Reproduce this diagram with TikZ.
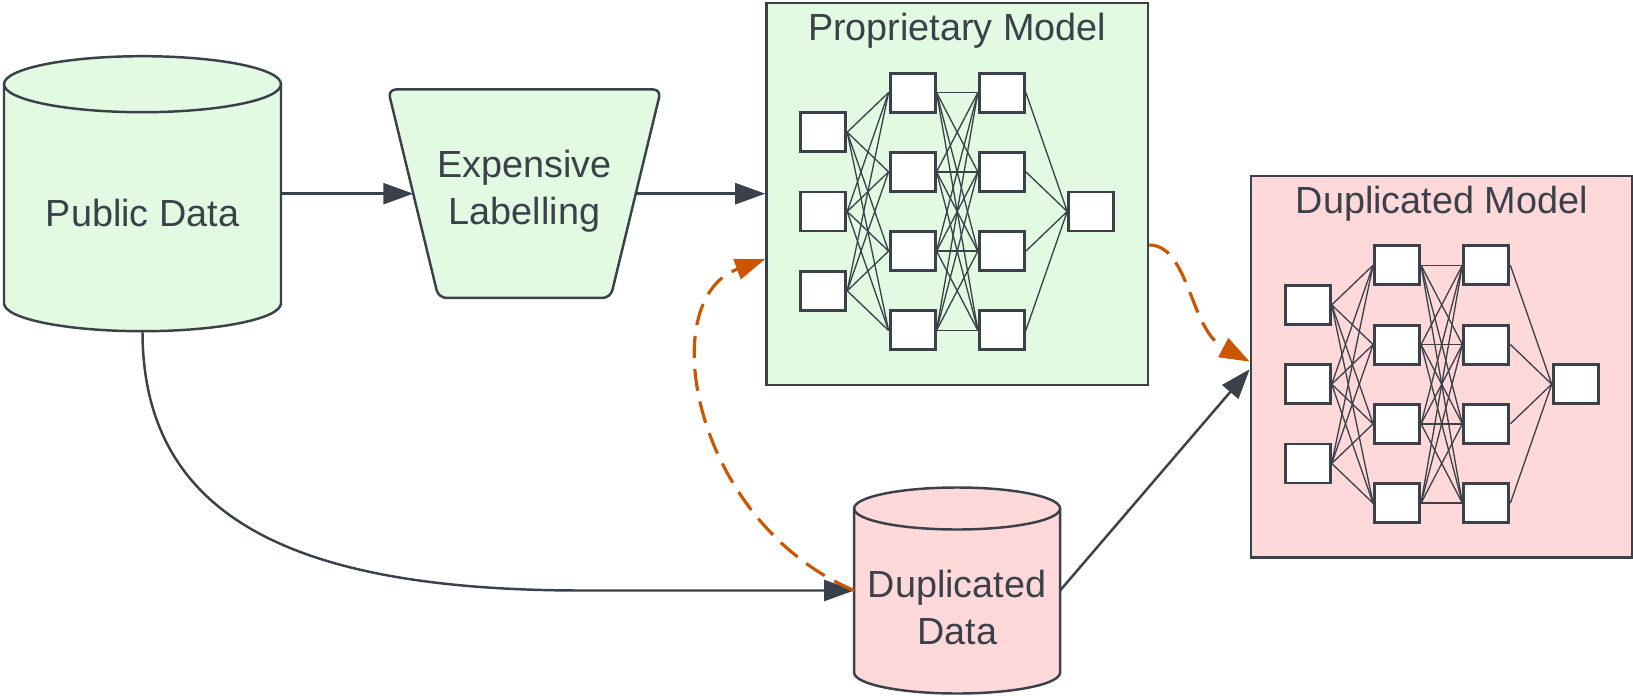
\documentclass[tikz,border=0pt]{standalone}
\usepackage{fontspec}
\setmainfont{Liberation Sans}
\usetikzlibrary{arrows.meta}

\definecolor{ink}{HTML}{3A414A}
\definecolor{okfill}{HTML}{E2F9E2}
\definecolor{copyfill}{HTML}{FFD9D9}
\definecolor{leak}{HTML}{CC5500}

\tikzset{
  txt/.style={font=\fontsize{21.5}{26.4}\selectfont, text=ink, align=center},
  slot/.style={inner sep=0pt, outer sep=0pt},
  store/.style={draw=ink, line width=1.4pt, line join=round},
  modelbox/.style={draw=ink, line width=1.4pt, minimum width=7.63cm, minimum height=7.63cm},
  unit/.style={draw=ink, line width=1.7pt, fill=white, minimum width=0.9cm,
    minimum height=0.78cm, inner sep=0pt},
  link/.style={draw=ink, line width=0.75pt},
  flow/.style={draw=ink, line width=1.4pt, -{Triangle[length=0.6cm,width=0.42cm]}},
  query/.style={draw=leak, line width=1.8pt, dash pattern=on 0.44cm off 0.22cm,
    -{Triangle[length=0.6cm,width=0.42cm]}},
}

% cylinder drawn round a plain node: #2 node, #3 x radius, #4 y radius of the ends
\newcommand{\drum}[4][]{%
  \draw[store,#1] ([yshift=-#4]#2.north west) -- ([yshift=#4]#2.south west)
    arc[start angle=180, end angle=360, x radius=#3, y radius=#4]
    -- ([yshift=-#4]#2.north east)
    arc[start angle=0, end angle=180, x radius=#3, y radius=#4] -- cycle;
  \draw[store] ([yshift=-#4]#2.north west)
    arc[start angle=180, end angle=360, x radius=#3, y radius=#4];}

% small fully connected net: 3 inputs, two hidden layers of 4, one output
\newcommand{\neuralnet}[1]{%
  \foreach \j in {1,2,3}
    \node[unit] (#1i\j) at (-2.68,{(2-\j)*1.586}) {};
  \foreach \j in {1,...,4} {
    \node[unit] (#1a\j) at (-0.893,{(2.5-\j)*1.586}) {};
    \node[unit] (#1b\j) at (0.893,{(2.5-\j)*1.586}) {};
  }
  \node[unit] (#1o) at (2.68,0) {};
  \foreach \j in {1,...,4} {
    \foreach \k in {1,2,3}
      \draw[link] (#1i\k.east) -- (#1a\j.west);
    \foreach \k in {1,...,4}
      \draw[link] (#1a\k.east) -- (#1b\j.west);
    \draw[link] (#1b\j.east) -- (#1o.west);
  }}

\begin{document}
\begin{tikzpicture}
 \useasboundingbox (0,0) rectangle (32.66,-13.92);

 % data stores
 \node[slot, minimum width=5.54cm, minimum height=5.5cm] (pub) at (2.85,-3.874) {};
 \drum[fill=okfill]{pub}{2.77cm}{0.56cm}
 \node[txt, anchor=base] (pubtext) at ([yshift=-0.66cm]pub.center) {Public Data};

 \node[slot, minimum width=4.12cm, minimum height=4.12cm] (dupdata) at (19.142,-11.81) {};
 \drum[fill=copyfill]{dupdata}{2.06cm}{0.42cm}
 \node[txt] (duptext) at (19.142,-12.15) {Duplicated\\Data};

 % labelling step, narrower at the bottom
 \node[slot, minimum width=5.46cm, minimum height=4.17cm] (lab) at (10.49,-3.874) {};
 \draw[store, fill=okfill, rounded corners=0.16cm] (lab.north west) -- (lab.north east)
   -- ([xshift=-1.01cm]lab.south east) -- ([xshift=1.01cm]lab.south west) -- cycle;
 \node[txt] (labtext) at ([yshift=0.05cm]lab.center) {Expensive\\Labelling};

 % the two models
 \node[modelbox, fill=okfill] (prop) at (19.144,-3.88) {};
 \node[txt, anchor=base] (proptitle) at ([yshift=-0.77cm]prop.north) {Proprietary Model};
 \begin{scope}[shift={(prop.center)}, yshift=-0.35cm]
  \neuralnet{p}
 \end{scope}

 \node[modelbox, fill=copyfill] (dmod) at (28.834,-7.334) {};
 \node[txt, anchor=base] (dmodtitle) at ([yshift=-0.77cm]dmod.north) {Duplicated Model};
 \begin{scope}[shift={(dmod.center)}, yshift=-0.35cm]
  \neuralnet{d}
 \end{scope}

 % connectors
 \draw[flow] (pub) -- ([xshift=0.505cm]lab.west);
 \draw[flow] ([xshift=-0.505cm]lab.east) -- (lab -| prop.west);
 \coordinate (bend) at (11.66,-11.81);
 \draw[flow] (pub.south) .. controls +(0,-3.8) and +(-5.66,0) .. (bend) -- (dupdata.west);
 \draw[flow] (dupdata.east) -- ([yshift=-0.05cm]dmod.west);
 \draw[query] (dupdata.west) .. controls +(157:3.5) and +(200:2.4) .. ([yshift=-1.3cm]prop.west);
 \draw[query] ([yshift=-1.02cm]prop.east) .. controls +(0.8,0) and +(-1.2,0.64) .. ([yshift=0.1cm]dmod.west);
\end{tikzpicture}
\end{document}
